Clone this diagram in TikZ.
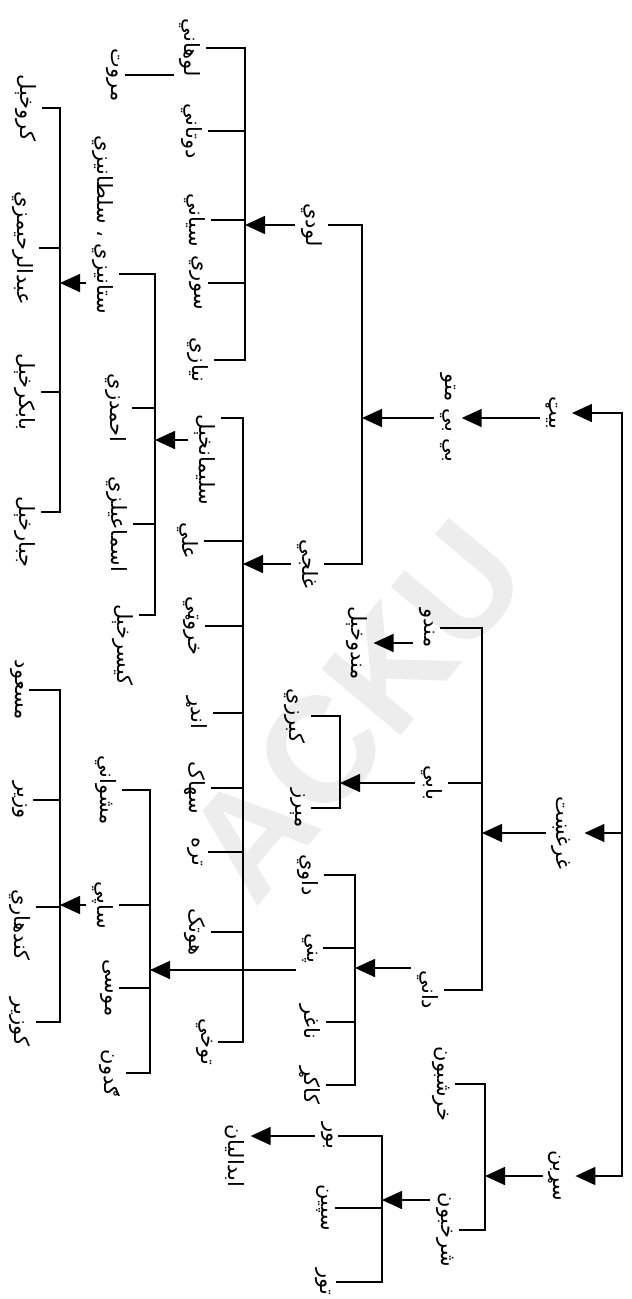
\documentclass[tikz,border=0pt]{standalone}
\usepackage{fontspec}
\newfontfamily\arabicfont[Script=Arabic]{DejaVu Sans}
\newfontfamily\markfont{Liberation Sans}
\TeXXeTstate=1
\usetikzlibrary{arrows.meta}
\newcommand{\pashto}[1]{\beginR#1\endR}

\tikzset{
  tribe/.style={rotate=-90, inner sep=1pt, outer sep=5pt,
    font=\arabicfont\fontsize{21}{23}\selectfont},
  tie/.style={line width=1.6pt, line cap=rect},
  down/.style={line width=1.6pt, -{Triangle[length=20pt,width=18pt]}},
}

\begin{document}
\begin{tikzpicture}[x=1pt,y=-1pt]
  \useasboundingbox (0,0) rectangle (632,1299);
  \node[rotate=50, text=black!7, font=\markfont\bfseries\fontsize{150}{150}\selectfont] (acku) at (355,710) {ACKU};

  % x of the vertical lines
  \coordinate (sRoot) at (622,0);
  \coordinate (sBbm) at (362,0);
  \coordinate (sGhur) at (482,0);
  \coordinate (sSar) at (485,0);
  \coordinate (sLodi) at (245,0);
  \coordinate (sGhil) at (243,0);
  \coordinate (sBabi) at (340,0);
  \coordinate (sDani) at (355,0);
  \coordinate (sShar) at (382,0);
  \coordinate (sSul) at (155,0);
  \coordinate (sStani) at (60,0);
  \coordinate (sPani) at (150,0);
  \coordinate (sSapi) at (60,0);

  % first level
  \node[tribe] (bet) at (552,413) {\pashto{بیټ}};
  \node[tribe] (ghur) at (561,833) {\pashto{غرغښت}};
  \node[tribe] (sarban) at (555,1176) {\pashto{سړبن}};

  \node[tribe] (bbm) at (448,418) {\pashto{بي بي متو}};
  \node[tribe] (mando) at (427,628) {\pashto{مندو}};
  \node[tribe] (babi) at (432,783) {\pashto{بابي}};
  \node[tribe] (dani) at (428,990) {\pashto{داني}};
  \node[tribe] (kharsh) at (441,1084) {\pashto{خرشبون}};
  \node[tribe] (sharkh) at (445,1230) {\pashto{شرخبون}};

  \node[tribe] (lodi) at (312,225) {\pashto{لودي}};
  \node[tribe] (ghilji) at (308,564) {\pashto{غلجي}};
  \node[tribe] (mandokhel) at (357,643) {\pashto{مندوخېل}};
  \node[tribe] (kabarzi) at (295,716) {\pashto{کبرزي}};
  \node[tribe] (merz) at (298,808) {\pashto{مېرز}};
  \node[tribe] (dawi) at (308,875) {\pashto{داوي}};
  \node[tribe] (pani) at (310,948) {\pashto{پني}};
  \node[tribe] (naghar) at (310,1022) {\pashto{ناغر}};
  \node[tribe] (kakar) at (310,1085) {\pashto{کاکړ}};
  \node[tribe] (bor) at (327,1136) {\pashto{بور}};
  \node[tribe] (spin) at (323,1208) {\pashto{سپین}};
  \node[tribe] (tor) at (323,1282) {\pashto{تور}};
  \node[tribe] (abdali) at (235,1156) {\pashto{ابدالیان}};

  \node[tribe] (lohani) at (190,48) {\pashto{لوهاني}};
  \node[tribe] (dotani) at (192,131) {\pashto{دوتاني}};
  \node[tribe] (siani) at (195,220) {\pashto{سیاني}};
  \node[tribe] (sori) at (196,283) {\pashto{سوري}};
  \node[tribe] (niazi) at (198,360) {\pashto{نیازي}};
  \node[tribe] (sulaiman) at (205,460) {\pashto{سلیمانخېل}};
  \node[tribe] (ali) at (188,541) {\pashto{علي}};
  \node[tribe] (kharoti) at (192,626) {\pashto{خروټي}};
  \node[tribe] (andar) at (197,713) {\pashto{اندړ}};
  \node[tribe] (sahak) at (195,788) {\pashto{سهاک}};
  \node[tribe] (tara) at (195,852) {\pashto{تره}};
  \node[tribe] (hotak) at (195,932) {\pashto{هوتک}};
  \node[tribe] (tokhi) at (205,1042) {\pashto{توخي}};

  \node[tribe] (marwat) at (113,75) {\pashto{مروت}};
  \node[tribe] (stani) at (103,225) {\pashto{ستانیزي ، سلطانیزي}};
  \node[tribe] (ahmad) at (116,408) {\pashto{احمدزي}};
  \node[tribe] (ismail) at (117,524) {\pashto{اسماعیلزي}};
  \node[tribe] (kaisar) at (123,645) {\pashto{کیسرخېل}};
  \node[tribe] (mashwani) at (106,790) {\pashto{مشواني}};
  \node[tribe] (sapi) at (103,905) {\pashto{ساپي}};
  \node[tribe] (musa) at (107,988) {\pashto{موسی}};
  \node[tribe] (gadun) at (110,1073) {\pashto{ګدون}};

  \node[tribe] (karo) at (26,108) {\pashto{کروخېل}};
  \node[tribe] (abdulrahim) at (23,248) {\pashto{عبدالرحیمزي}};
  \node[tribe] (babakr) at (25,392) {\pashto{بابکرخېل}};
  \node[tribe] (jabbar) at (25,532) {\pashto{جبارخېل}};
  \node[tribe] (masud) at (17,690) {\pashto{مسعود}};
  \node[tribe] (wazir) at (20,800) {\pashto{وزیر}};
  \node[tribe] (kandahari) at (20,925) {\pashto{کندهاري}};
  \node[tribe] (kozir) at (20,1022) {\pashto{کوزیر}};

  % ticks and arrows that sit off the middle of a name
  \coordinate (sulT) at ([yshift=42pt]sulaiman.north);
  \coordinate (sulA) at ([yshift=20pt]sulaiman.south);
  \coordinate (staT) at ([yshift=-49pt]stani.north);
  \coordinate (staA) at ([yshift=-58pt]stani.south);
  \coordinate (kaiT) at ([yshift=30pt]kaisar.north);
  \coordinate (jabT) at ([yshift=20pt]jabbar.north);
  \coordinate (kanT) at ([yshift=18pt]kandahari.north);
  \coordinate (danA) at ([yshift=22pt]dani.south);
  \coordinate (panA) at ([yshift=-22pt]pani.south);
  \coordinate (shaA) at ([yshift=30pt]sharkh.south);

  % root
  \draw[tie] (bet -| sRoot) -- (sarban -| sRoot);
  \foreach \n in {bet,ghur,sarban}
    \draw[down, shorten >=8pt] (\n -| sRoot) -- (\n.north);

  % Bet
  \draw[down] (bet.south |- bbm) -- (bbm.north);
  \draw[down] (bbm.south) -- (bbm -| sBbm);
  \draw[tie] (lodi -| sBbm) -- (ghilji -| sBbm);
  \foreach \n in {lodi,ghilji}
    \draw[tie] (\n.north) -- (\n -| sBbm);

  % Lodi
  \draw[down] (lodi.south) -- (lodi -| sLodi);
  \draw[tie] (lohani -| sLodi) -- (niazi -| sLodi);
  \foreach \n in {lohani,dotani,siani,sori,niazi}
    \draw[tie] (\n.north) -- (\n -| sLodi);
  \draw[tie] (marwat.north) -- (marwat -| lohani.south);

  % Ghilji
  \draw[down] (ghilji.south) -- (ghilji -| sGhil);
  \draw[tie] (sulT -| sGhil) -- (tokhi -| sGhil);
  \draw[tie] (sulT) -- (sulT -| sGhil);
  \foreach \n in {ali,kharoti,andar,sahak,tara,hotak,tokhi}
    \draw[tie] (\n.north) -- (\n -| sGhil);

  % Sulaimankhel
  \draw[down] (sulA) -- (sulA -| sSul);
  \draw[tie] (staT -| sSul) -- (kaiT -| sSul);
  \draw[tie] (staT) -- (staT -| sSul);
  \draw[tie] (kaiT) -- (kaiT -| sSul);
  \foreach \n in {ahmad,ismail}
    \draw[tie] (\n.north) -- (\n -| sSul);

  \draw[down] (staA) -- (staA -| sStani);
  \draw[tie] (karo -| sStani) -- (jabT -| sStani);
  \draw[tie] (jabT) -- (jabT -| sStani);
  \foreach \n in {karo,abdulrahim,babakr}
    \draw[tie] (\n.north) -- (\n -| sStani);

  % Ghurghusht
  \draw[down] (ghur.south) -- (ghur -| sGhur);
  \draw[tie] (mando -| sGhur) -- (dani -| sGhur);
  \foreach \n in {mando,babi,dani}
    \draw[tie] (\n.north) -- (\n -| sGhur);
  \draw[down] (mando.south |- mandokhel) -- (mandokhel.north);

  \draw[down] (babi.south) -- (babi -| sBabi);
  \draw[tie] (kabarzi -| sBabi) -- (merz -| sBabi);
  \foreach \n in {kabarzi,merz}
    \draw[tie] (\n.north) -- (\n -| sBabi);

  \draw[down] (danA) -- (danA -| sDani);
  \draw[tie] (dawi -| sDani) -- (kakar -| sDani);
  \foreach \n in {dawi,pani,naghar,kakar}
    \draw[tie] (\n.north) -- (\n -| sDani);

  \draw[down] (panA) -- (panA -| sPani);
  \draw[tie] (mashwani -| sPani) -- (gadun -| sPani);
  \foreach \n in {mashwani,sapi,musa,gadun}
    \draw[tie] (\n.north) -- (\n -| sPani);

  \draw[down] (sapi.south) -- (sapi -| sSapi);
  \draw[tie] (masud -| sSapi) -- (kozir -| sSapi);
  \draw[tie] (kanT) -- (kanT -| sSapi);
  \foreach \n in {masud,wazir,kozir}
    \draw[tie] (\n.north) -- (\n -| sSapi);

  % Sarban
  \draw[down] (sarban.south) -- (sarban -| sSar);
  \draw[tie] (kharsh -| sSar) -- (sharkh -| sSar);
  \foreach \n in {kharsh,sharkh}
    \draw[tie] (\n.north) -- (\n -| sSar);

  \draw[down] (shaA) -- (shaA -| sShar);
  \draw[tie] (bor -| sShar) -- (tor -| sShar);
  \foreach \n in {bor,spin,tor}
    \draw[tie] (\n.north) -- (\n -| sShar);
  \draw[down] (bor.south) -- (bor.south -| abdali.north);
\end{tikzpicture}
\end{document}
